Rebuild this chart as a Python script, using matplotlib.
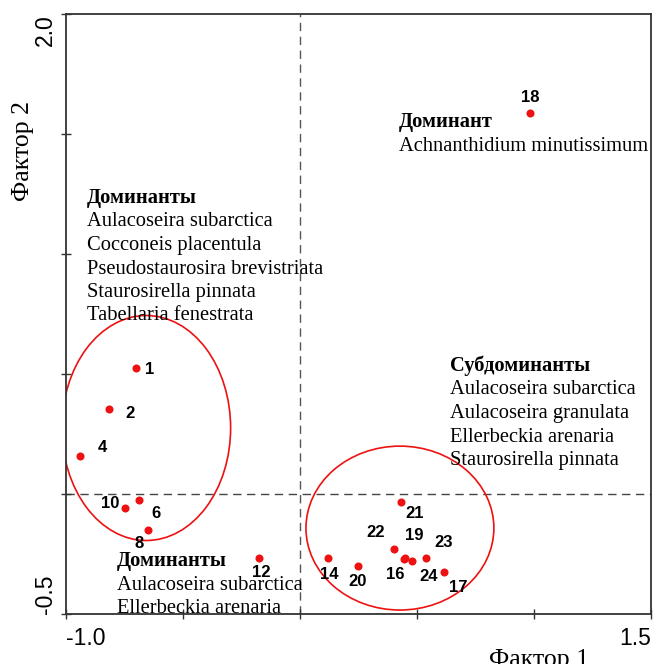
import matplotlib
matplotlib.use("Agg")
import matplotlib.pyplot as plt
from matplotlib.patches import Ellipse

# sample numbers and factor scores
ids = ["1", "2", "4", "10", "6", "8", "12", "14", "20", "21",
       "22", "19", "16", "23", "24", "17", "18"]
f1 = [-0.701, -0.818, -0.940, -0.750, -0.690, -0.649, -0.177, 0.120, 0.248, 0.431,
      0.403, 0.447, 0.446, 0.538, 0.478, 0.617, 0.983]
f2 = [0.525, 0.354, 0.160, -0.060, -0.026, -0.150, -0.268, -0.268, -0.300, -0.032,
      -0.230, -0.268, -0.270, -0.265, -0.278, -0.325, 1.588]
# label offsets in pixels (dx right, dy down)
lbl_off = [(14, 1), (21, 4), (22, -8), (-14, -5), (17, 13), (-9, 14), (3, 14), (1, 16),
           (0, 15), (14, 12), (-19, -17), (10, -23), (-9, 16), (18, -15), (17, 16),
           (14, 15), (0, -15)]

# group ellipses: center x, center y, width, height
groups = [(-0.657, 0.275, 0.721, 0.9375), (0.427, -0.142, 0.803, 0.683)]

# text blocks: header, species, anchor (x, baseline y)
blocks = [
    ("Доминант", ["Achnanthidium minutissimum"], (0.421, 1.529)),
    ("Доминанты", ["Aulacoseira subarctica", "Cocconeis placentula",
                   "Pseudostaurosira brevistriata", "Staurosirella pinnata",
                   "Tabellaria fenestrata"], (-0.910, 1.2125)),
    ("Субдоминанты", ["Aulacoseira subarctica", "Aulacoseira granulata",
                      "Ellerbeckia arenaria", "Staurosirella pinnata"], (0.639, 0.5125)),
    ("Доминанты", ["Aulacoseira subarctica", "Ellerbeckia arenaria"], (-0.781, -0.300)),
]

serif = "Liberation Serif"
sans = "Liberation Sans"

fig = plt.figure(figsize=(6.54, 6.64), dpi=100)
ax = fig.add_axes([66 / 654, 50 / 664, 585 / 654, 600 / 664])

ax.set_xlim(-1.0, 1.5)
ax.set_ylim(-0.5, 2.0)

ax.axhline(0, color="#444444", lw=1.0, ls=(0, (6, 4)), zorder=1)
ax.axvline(0, color="#555555", lw=1.0, ls=(0, (6, 4)), zorder=1)

for cx, cy, w, h in groups:
    ax.add_patch(Ellipse((cx, cy), w, h, fill=False, ec="#ee1111", lw=1.2, zorder=2))

ax.plot(f1, f2, "o", color="#ee1111", ms=5.8, mec="none", zorder=3)
for lab, x, y, (dx, dy) in zip(ids, f1, f2, lbl_off):
    ax.annotate(lab, (x, y), xytext=(dx, -dy), textcoords="offset pixels",
                ha="center", va="center", fontsize=12, fontweight="bold",
                family=sans, color="black", zorder=4)

for head, lines, (bx, by) in blocks:
    ax.annotate(head, (bx, by), xytext=(0, 0), textcoords="offset pixels",
                ha="left", va="baseline", fontsize=14.8, fontweight="bold", family=serif)
    for i, ln in enumerate(lines):
        ax.annotate(ln, (bx, by), xytext=(0, -23.5 * (i + 1)), textcoords="offset pixels",
                    ha="left", va="baseline", fontsize=14.8, family=serif)

for s in ax.spines.values():
    s.set_color("#333333")
    s.set_linewidth(1.3)

ax.set_xticks([-1.0, -0.5, 0, 0.5, 1.0, 1.5])
ax.set_xticklabels(["-1.0", "", "", "", "", "1.5"], family=sans, fontsize=16.5)
ax.set_yticks([-0.5, 0, 0.5, 1.0, 1.5, 2.0])
ax.set_yticklabels(["-0.5", "", "", "", "", "2.0"], family=sans, fontsize=16.5, rotation=90)
ax.tick_params(direction="inout", length=7, width=1.0, color="#333333")
ax.tick_params(axis="x", pad=6)
ax.tick_params(axis="y", pad=3)
xl = ax.get_xticklabels()
xl[0].set_ha("left")
xl[-1].set_ha("right")
yl = ax.get_yticklabels()
yl[0].set_va("bottom")
yl[-1].set_va("top")

ax.set_xlabel("Фактор 1", family=serif, fontsize=18.5)
ax.xaxis.set_label_coords(0.808, -0.058)
ax.set_ylabel("Фактор 2", family=serif, fontsize=18.5)
ax.yaxis.set_label_coords(-0.055, 0.772)

fig.savefig("out.png", dpi=100)
